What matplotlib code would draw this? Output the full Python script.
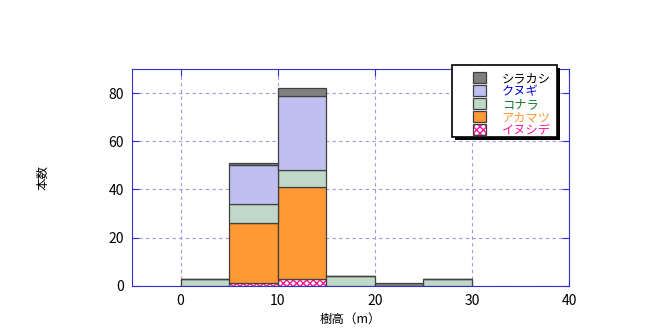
import matplotlib.pyplot as plt
from matplotlib.patches import Rectangle
from matplotlib.legend_handler import HandlerTuple

plt.rcParams['font.family'] = ['Noto Sans CJK JP', 'DejaVu Sans']

# bin left edges (m) and tree counts per species
bins = [0, 5, 10, 15, 20, 25]
inushide = [0, 1, 3, 0, 0, 0]
akamatsu = [0, 25, 38, 0, 0, 0]
konara = [3, 8, 7, 4, 0, 3]
kunugi = [0, 16, 31, 0, 0, 0]
shirakashi = [0, 1, 3, 0, 1, 0]

names = ["イヌシデ", "アカマツ", "コナラ", "クヌギ", "シラカシ"]
series = [inushide, akamatsu, konara, kunugi, shirakashi]
fills = ["white", "#ff9933", "#c0d8c8", "#c0c0f0", "#808080"]
text_colors = ["#ff1493", "#ff9933", "#1e7b30", "#0000dd", "black"]
edge = "#404040"

fig = plt.figure(figsize=(6.57, 3.32), dpi=100)
ax = fig.add_axes([0.201, 0.139, 0.665, 0.653])

bottom = [0] * len(bins)
handles = []
for name, vals, fc in zip(names, series, fills):
    if name == "イヌシデ":
        h = ax.bar(bins, vals, width=5, align="edge", bottom=bottom, color=fc,
                   edgecolor="#ff1493", linewidth=0, hatch="xxxxx", zorder=3)
        o = ax.bar(bins, vals, width=5, align="edge", bottom=bottom, fill=False,
                   edgecolor=edge, linewidth=0.9, zorder=3)
        handles.append((h, o))
    else:
        b = ax.bar(bins, vals, width=5, align="edge", bottom=bottom, color=fc,
                   edgecolor=edge, linewidth=0.9, zorder=3)
        handles.append(b)
    bottom = [x + y for x, y in zip(bottom, vals)]

ax.set_xlim(-5, 40)
ax.set_ylim(0, 90)
ax.set_xticks([0, 10, 20, 30, 40])
ax.set_yticks([0, 20, 40, 60, 80])
ax.grid(True, linestyle=(0, (3, 3)), color="#9a9aea", linewidth=0.8, zorder=0)
for s in ax.spines.values():
    s.set_color("#3030d0")
ax.tick_params(direction="in", color="#3030d0", top=True, right=True, length=5,
               labelsize=10, pad=6)

ax.set_xlabel("樹高（m）", fontsize=9, labelpad=3)
ax.set_ylabel("本数", fontsize=9, labelpad=42)

# legend box with solid black shadow
W, H = 657, 332
x0, y0, x1, y1 = 452, 65, 557, 137
ax.add_patch(Rectangle(((x0 + 3) / W, 1 - (y1 + 3) / H), (x1 - x0) / W, (y1 - y0) / H,
                       transform=fig.transFigure, facecolor="black",
                       linewidth=0, clip_on=False, zorder=4))
ax.add_patch(Rectangle((x0 / W, 1 - y1 / H), (x1 - x0) / W, (y1 - y0) / H,
                       transform=fig.transFigure, facecolor="white",
                       edgecolor="black", linewidth=1.2, clip_on=False, zorder=4))

leg = ax.legend(handles[::-1], names[::-1], loc="upper left",
                bbox_to_anchor=(473 / W, 1 - 72 / H), bbox_transform=fig.transFigure,
                frameon=False, fontsize=8.8, handlelength=1.1, handleheight=0.97,
                labelspacing=0.0, borderpad=0, borderaxespad=0, handletextpad=1.25,
                handler_map={tuple: HandlerTuple(ndivide=1)})
for t, c in zip(leg.get_texts(), text_colors[::-1]):
    t.set_color(c)
leg.set_zorder(5)

fig.savefig("out.png", dpi=100)
